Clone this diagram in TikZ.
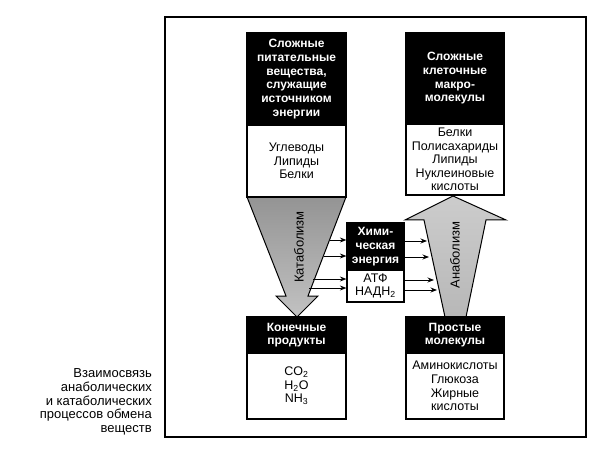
\documentclass[tikz,border=0pt]{standalone}
\usepackage{fontspec}
\setmainfont{Liberation Sans}
\usetikzlibrary{arrows.meta}
\begin{document}
\begin{tikzpicture}[x=1pt,y=-1pt,
  hd/.style={draw=black, fill=black, text=white, font=\bfseries\fontsize{12}{13.7}\selectfont, align=center, inner sep=0pt, line width=1.2pt},
  bd/.style={draw=black, fill=white, font=\fontsize{12.5}{13.6}\selectfont, align=center, inner sep=0pt, line width=1.2pt},
  sm/.style={-{Stealth[length=6.5pt,width=5pt]}, line width=0.9pt},
  big/.style={draw=black, line width=1pt},
  lbl/.style={rotate=90, font=\fontsize{13}{13}\selectfont}]
\useasboundingbox (0,0) rectangle (597,449);
\draw[line width=1.5pt] (165,17) rectangle (586,437);
% big arrows
\shade[big, top color=black!42, bottom color=black!24]
  (247,197) -- (346,197) -- (308,296) -- (318,296) -- (297,317) -- (276,296) -- (286,296) -- cycle;
\shade[big, top color=black!20, bottom color=black!28]
  (445,317) -- (424,220) -- (405,220) -- (453,196) -- (506,220) -- (486,220) -- (466,317) -- cycle;
\node[lbl] (kat) at (299,247) {Катаболизм};
\node[lbl] (ana) at (455,255) {Анаболизм};
% boxes
\node[hd, minimum width=99pt, minimum height=92pt] (s1h) at (296.5,79) {Сложные\\питательные\\вещества,\\служащие\\источником\\энергии};
\node[bd, minimum width=99pt, minimum height=72pt] (s1b) at (296.5,161) {Углеводы\\Липиды\\Белки};
\node[hd, minimum width=98pt, minimum height=91pt] (s2h) at (455,78.5) {Сложные\\клеточные\\макро-\\молекулы};
\node[bd, minimum width=98pt, minimum height=71pt] (s2b) at (455,159.5) {Белки\\Полисахариды\\Липиды\\Нуклеиновые\\кислоты};
\node[hd, minimum width=57pt, minimum height=47pt] (ch) at (375.5,246.5) {Хими-\\ческая\\энергия};
\node[bd, minimum width=57pt, minimum height=32pt] (cb) at (375.5,286) {АТФ\\НАДН\textsubscript{2}};
\node[hd, minimum width=99pt, minimum height=36pt] (b1h) at (296.5,335) {Конечные\\продукты};
\node[bd, minimum width=99pt, minimum height=66pt] (b1b) at (296.5,386) {CO\textsubscript{2}\\H\textsubscript{2}O\\NH\textsubscript{3}};
\node[hd, minimum width=98pt, minimum height=36pt] (b2h) at (455,335) {Простые\\молекулы};
\node[bd, minimum width=98pt, minimum height=66pt] (b2b) at (455,386) {Аминокислоты\\Глюкоза\\Жирные\\кислоты};
% small arrows
\coordinate (k1) at (330,240);
\coordinate (k2) at (324,256);
\coordinate (k3) at (313,279);
\coordinate (k4) at (309,288);
\coordinate (a1) at (427,241);
\coordinate (a2) at (429,257);
\coordinate (a3) at (434,280);
\coordinate (a4) at (437,290);
\draw[sm] (k1) -- (k1 -| ch.west);
\draw[sm] (k2) -- (k2 -| ch.west);
\draw[sm] (k3) -- (k3 -| cb.west);
\draw[sm] (k4) -- (k4 -| cb.west);
\draw[sm] (a1 -| ch.east) -- (a1);
\draw[sm] (a2 -| ch.east) -- (a2);
\draw[sm] (a3 -| cb.east) -- (a3);
\draw[sm] (a4 -| cb.east) -- (a4);
% caption
\node[align=right, anchor=east, font=\fontsize{13}{13.7}\selectfont, inner sep=0pt] (cap) at (152,402) {Взаимосвязь\\анаболических\\и катаболических\\процессов обмена\\веществ};
\end{tikzpicture}
\end{document}
